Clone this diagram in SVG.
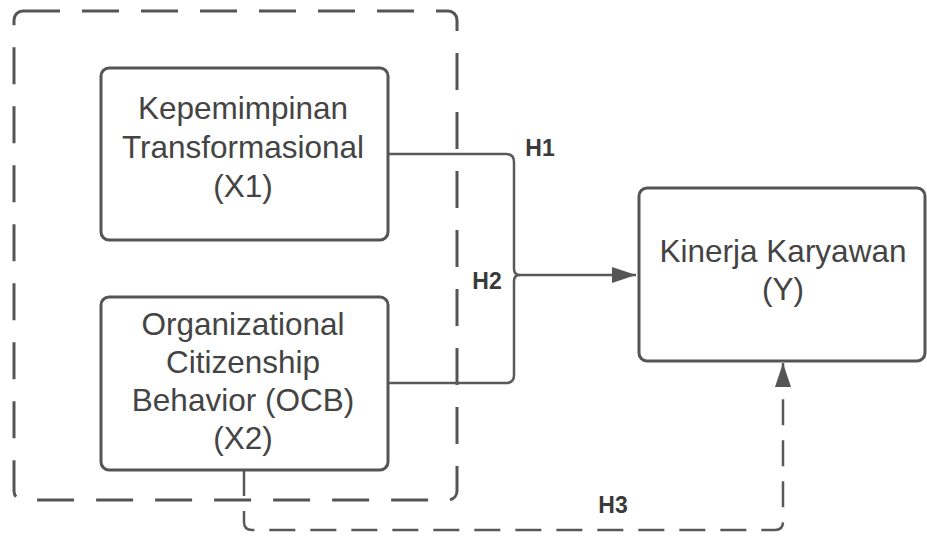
<svg xmlns="http://www.w3.org/2000/svg" width="927" height="536" viewBox="0 0 927 536">
  <defs>
    <marker id="arrow" viewBox="0 0 24 18" refX="24" refY="9" markerWidth="24" markerHeight="18" markerUnits="userSpaceOnUse" orient="auto">
      <path d="M0,1 L24,9 L0,17 z" fill="#555"/>
    </marker>
    <style>
      .node { fill: #fff; stroke: #555; stroke-width: 3; }
      .group { fill: none; stroke: #555; stroke-width: 3; stroke-dasharray: 37 22; }
      .conn { fill: none; stroke: #595959; stroke-width: 2.5; }
      .dash { stroke-dasharray: 26 15; }
      .label { font-family: "Liberation Sans", Arial, sans-serif; font-size: 31.5px; fill: #444; text-anchor: middle; }
      .hlabel { font-family: "Liberation Sans", Arial, sans-serif; font-size: 23px; font-weight: bold; fill: #3a3a3a; text-anchor: middle; }
    </style>
  </defs>
  <rect width="927" height="536" fill="#fff"/>
  <g id="group-box">
    <rect class="group" x="14" y="11" width="443" height="489" rx="9"/>
  </g>
  <g id="connectors">
    <path class="conn" d="M388,154 H506 Q514,154 514,162 V269 Q514,275 520,275"/>
    <path class="conn" d="M388,383 H506 Q514,383 514,375 V281 Q514,275 520,275"/>
    <path class="conn" d="M520,275 H636" marker-end="url(#arrow)"/>
    <path class="conn dash" d="M244,470 V522 Q244,530 252,530 H775 Q783,530 783,522 V363" marker-end="url(#arrow)"/>
  </g>
  <g id="x1">
    <rect class="node" x="101" y="68" width="287" height="172" rx="8"/>
    <text class="label" x="243" y="119">Kepemimpinan</text>
    <text class="label" x="243" y="158">Transformasional</text>
    <text class="label" x="243" y="197">(X1)</text>
  </g>
  <g id="x2">
    <rect class="node" x="101" y="297" width="287" height="173" rx="8"/>
    <text class="label" x="243" y="335">Organizational</text>
    <text class="label" x="243" y="373">Citizenship</text>
    <text class="label" x="243" y="411">Behavior (OCB)</text>
    <text class="label" x="243" y="449">(X2)</text>
  </g>
  <g id="y">
    <rect class="node" x="639" y="188" width="286" height="173" rx="8"/>
    <text class="label" x="783" y="262">Kinerja Karyawan</text>
    <text class="label" x="783" y="300">(Y)</text>
  </g>
  <g id="labels">
    <text class="hlabel" x="540" y="156">H1</text>
    <text class="hlabel" x="487" y="289">H2</text>
    <text class="hlabel" x="613" y="513">H3</text>
  </g>
</svg>
